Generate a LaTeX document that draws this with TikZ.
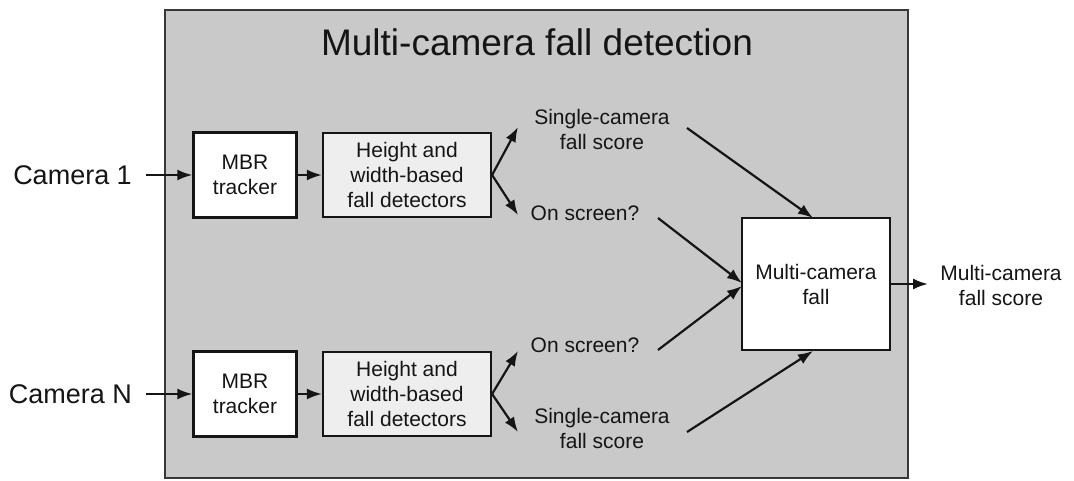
\documentclass[tikz,border=0pt]{standalone}
\usepackage{fontspec}
\setmainfont{Liberation Sans}
\usetikzlibrary{arrows.meta}
\definecolor{panel}{HTML}{C9C9C9}
\definecolor{detfill}{HTML}{EEEEEE}
\definecolor{ink}{HTML}{151515}
\tikzset{
  body/.style={font=\fontsize{21}{25}\selectfont, text=ink, align=center},
  block/.style={body, draw=ink, line width=2.2pt, inner sep=0pt},
  tracker/.style={block, fill=white, minimum width=103pt, minimum height=85pt},
  detector/.style={block, fill=detfill, minimum width=168pt, minimum height=84pt},
  fuse/.style={block, fill=white, minimum width=148pt, minimum height=132pt},
  label/.style={body, inner sep=0pt},
  camlabel/.style={font=\fontsize{27}{30}\selectfont, text=ink, inner sep=0pt},
  arr/.style={draw=ink, line width=2.2pt, -{Latex[length=15pt,width=11pt]}}
}
\begin{document}
\begin{tikzpicture}[x=1pt,y=-1pt]
\useasboundingbox (0,0) rectangle (1074,481);
\fill[white] (0,0) rectangle (1074,481);

% enclosing panel
\draw[fill=panel, draw=ink!85, line width=2pt] (165,10) rectangle (908,478);
\node[font=\fontsize{37}{40}\selectfont, text=ink, inner sep=0pt] (title) at (537,42) {Multi-camera fall detection};

% camera 1 chain
\node[camlabel, anchor=east] (cam1) at (132,175) {Camera 1};
\node[tracker] (mbr1) at (245,175) {MBR\\tracker};
\node[detector] (det1) at (407,175) {Height and\\width-based\\fall detectors};
\node[label] (sc1) at (602,129) {Single-camera\\fall score};
\node[label] (os1) at (585,213) {On screen?};

% camera N chain
\node[camlabel, anchor=east] (camN) at (132,394) {Camera N};
\node[tracker] (mbrN) at (245,394) {MBR\\tracker};
\node[detector] (detN) at (407,394) {Height and\\width-based\\fall detectors};
\node[label] (osN) at (585,345) {On screen?};
\node[label] (scN) at (602,428) {Single-camera\\fall score};

% fusion
\node[fuse] (mc) at (816,284) {Multi-camera\\fall};
\node[label] (out) at (1001,285) {Multi-camera\\fall score};

% connector end points
\coordinate (sc1in) at (518,127);
\coordinate (os1in) at (518,215);
\coordinate (osNin) at (518,351);
\coordinate (scNin) at (518,432);
\coordinate (sc1out) at (687,128);
\coordinate (os1out) at (658,218);
\coordinate (osNout) at (658,350);
\coordinate (scNout) at (687,432);
\coordinate (mcA) at (813,218);
\coordinate (mcB) at (742,283);
\coordinate (mcC) at (742,286);
\coordinate (mcD) at (813,351);
\coordinate (outin) at (928,284);

\draw[arr] (cam1.east) ++(14,0) coordinate (c1s) -- (mbr1.west);
\draw[arr] (mbr1) -- (det1);
\draw[arr] (det1.east) -- (sc1in);
\draw[arr] (det1.east) -- (os1in);

\draw[arr] (camN.east) ++(14,0) coordinate (cNs) -- (mbrN.west);
\draw[arr] (mbrN) -- (detN);
\draw[arr] (detN.east) -- (osNin);
\draw[arr] (detN.east) -- (scNin);

\draw[arr] (sc1out) -- (mcA);
\draw[arr] (os1out) -- (mcB);
\draw[arr] (osNout) -- (mcC);
\draw[arr] (scNout) -- (mcD);
\draw[arr] (mc.east) -- (outin);
\end{tikzpicture}
\end{document}
